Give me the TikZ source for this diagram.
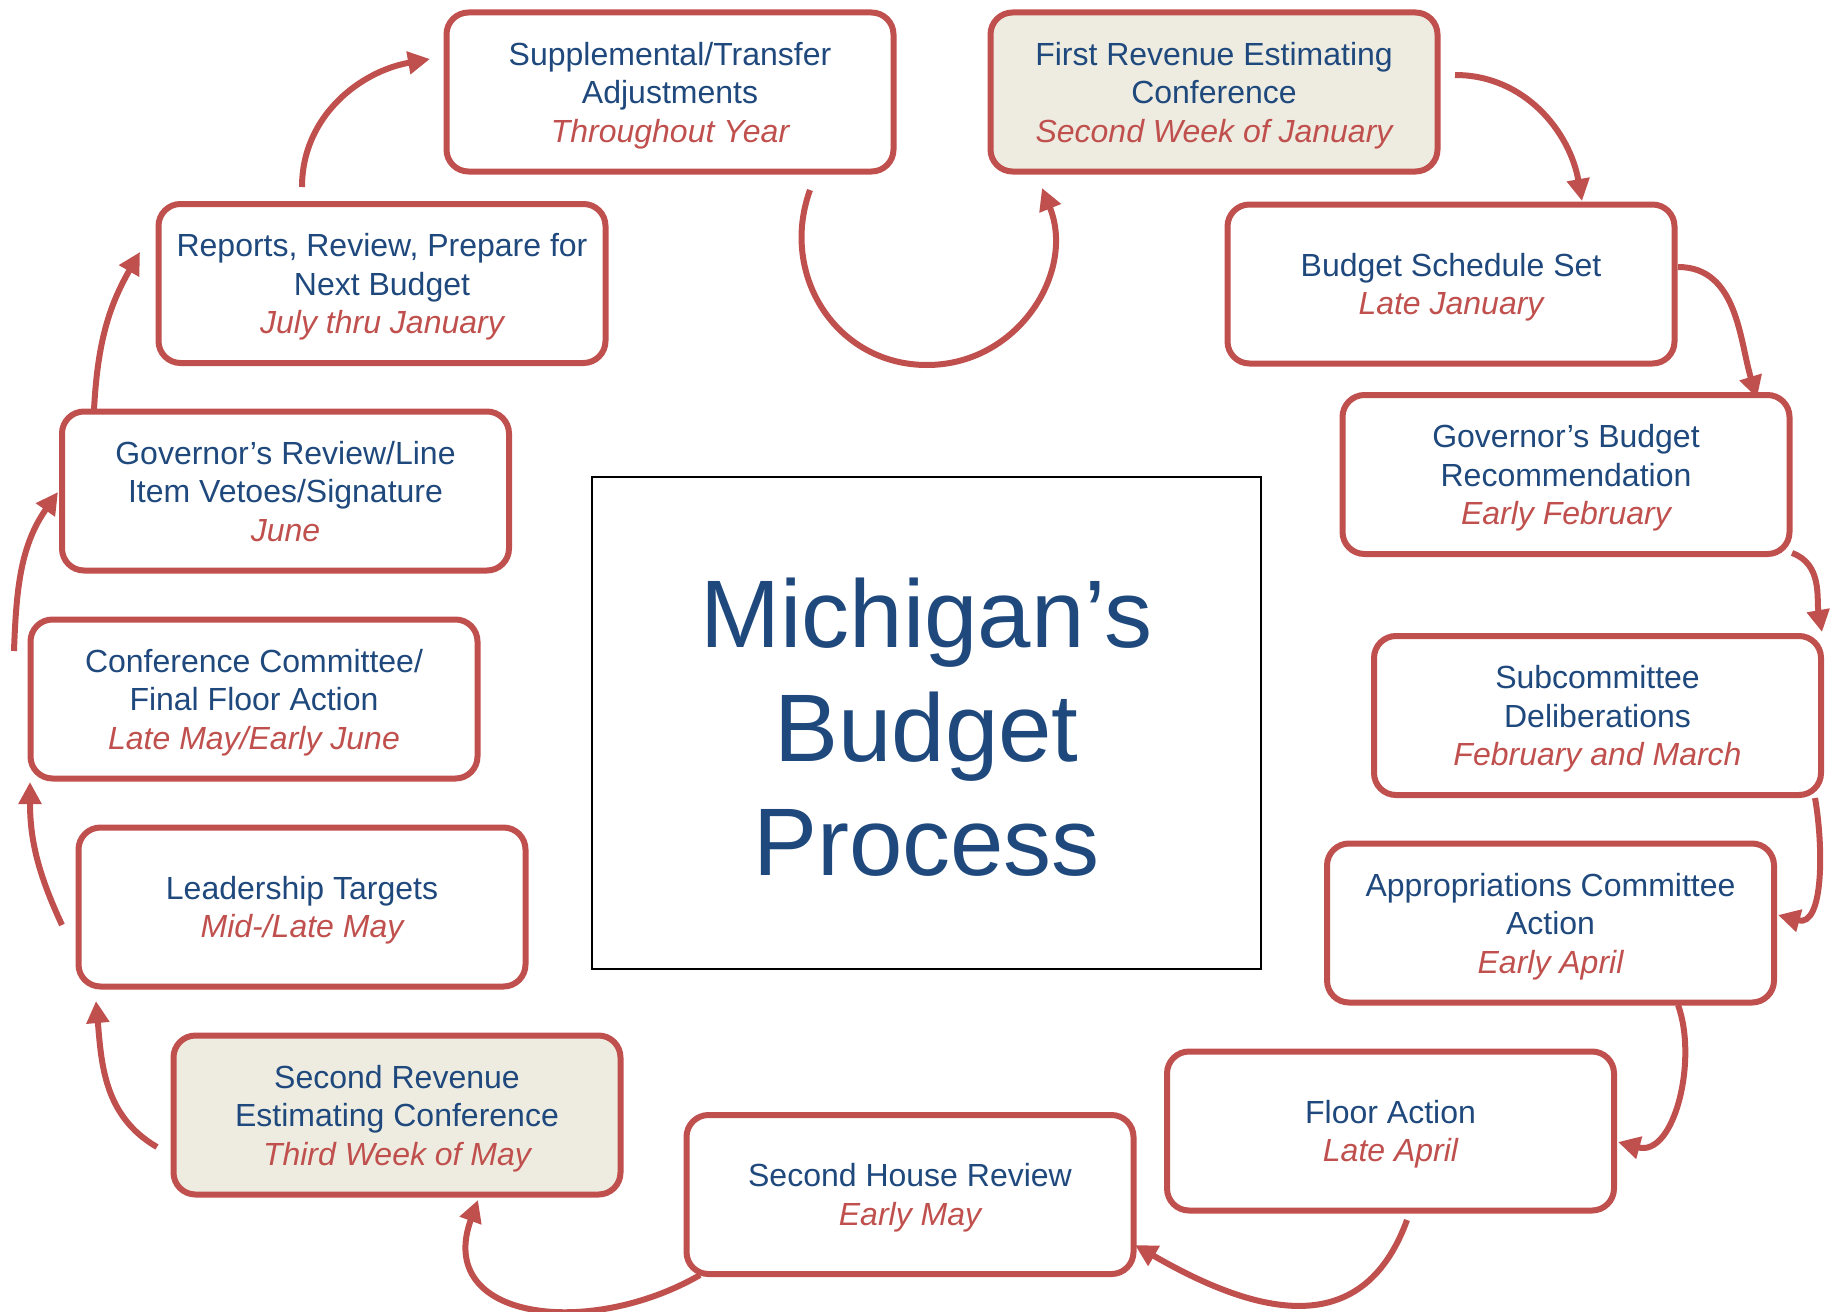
\documentclass[tikz,border=0pt]{standalone}
\usepackage{fontspec}
\setmainfont{Liberation Sans}
\usetikzlibrary{arrows.meta,calc}

\definecolor{budgetred}{HTML}{C0504D}
\definecolor{budgetblue}{HTML}{1F497D}
\definecolor{budgettan}{HTML}{EEECE1}

\newcommand{\stagedate}[1]{\smash{\color{budgetred}\itshape #1}}

\begin{document}
\begin{tikzpicture} [ x=1pt, y=-1pt,
		      every node/.style={align=center, text=budgetblue, font=\fontsize{32}{38.5}\selectfont},
		      stage/.style={draw=budgetred, line width=6pt, rounded corners=22pt, fill=white,
		                    minimum width=447pt, minimum height=159pt, inner sep=0pt},
		      revenue/.style={stage, fill=budgettan},
		      flow/.style={draw=budgetred, line width=6pt, -{Triangle[length=22pt,width=22pt]}},
%		      flow/.style={->,thick},
		    ]

  \useasboundingbox (0,0) rectangle (1835,1311);

  % centre title
  \node[draw=black, line width=2pt, minimum width=669pt, minimum height=492pt] (title) at (926.5,723) {};
  \node[font=\fontsize{96}{114}\selectfont] (titletext) at ($(title)+(0,4)$) {Michigan’s\\Budget\\Process};

  % the yearly cycle
  \node[stage]   (sup)     at (670,92)      {Supplemental/Transfer\\Adjustments\\\stagedate{Throughout Year}};
  \node[revenue] (frev)    at (1214,92)     {First Revenue Estimating\\Conference\\\stagedate{Second Week of January}};
  \node[stage]   (sched)   at (1451,284)    {Budget Schedule Set\\\stagedate{Late January}};
  \node[stage]   (govrec)  at (1566,474.5)  {Governor’s Budget\\Recommendation\\\stagedate{Early February}};
  \node[stage]   (subc)    at (1597.5,715.5){Subcommittee\\Deliberations\\\stagedate{February and March}};
  \node[stage]   (approp)  at (1550.5,923)  {Appropriations Committee\\Action\\\stagedate{Early April}};
  \node[stage]   (floor)   at (1390.5,1131) {Floor Action\\\stagedate{Late April}};
  \node[stage]   (shouse)  at (910,1194.5)  {Second House Review\\\stagedate{Early May}};
  \node[revenue] (srev)    at (397,1115)    {Second Revenue\\Estimating Conference\\\stagedate{Third Week of May}};
  \node[stage]   (lead)    at (302,907)     {Leadership Targets\\\stagedate{Mid-/Late May}};
  \node[stage]   (conf)    at (254,699)     {Conference Committee/\\Final Floor Action\\\stagedate{Late May/Early June}};
  \node[stage]   (govrev)  at (285.5,491)   {Governor’s Review/Line\\Item Vetoes/Signature\\\stagedate{June}};
  \node[stage]   (reports) at (382,283.5)   {Reports, Review, Prepare for\\Next Budget\\\stagedate{July thru January}};

  \coordinate (loop) at (927,365);

  % arrows round the cycle
  \draw[flow] ($(sup)+(140,98)$) to[out=250,in=180,looseness=1.1] (loop)
                                 to[out=0,in=292,looseness=1.1] ($(frev)+(-172,96)$);
  \draw[flow] ($(frev)+(241,-17)$)      to[out=0,in=100]   ($(sched)+(131,-83)$);
  \draw[flow] ($(sched)+(227,-17)$)     to[out=0,in=107]   ($(govrec)+(191,-76.5)$);
  \draw[flow] ($(govrec)+(226,78.5)$)   to[out=-20,in=100] ($(subc)+(224.5,-83.5)$);
  \draw[flow] ($(subc)+(217.5,82.5)$)   to[out=-80,in=-15] ($(approp)+(227.5,-8)$);
  \draw[flow] ($(approp)+(127.5,82)$)   to[out=-70,in=-15] ($(floor)+(227.5,11)$);
  \draw[flow] ($(floor)+(16.5,89)$)     to[out=-110,in=-30,looseness=1.25] ($(shouse)+(225,50.5)$);
  \draw[flow] ($(shouse)+(-210,80.5)$)  to[out=210,in=250,looseness=1.4] ($(srev)+(81,85)$);
  \draw[flow] ($(srev)+(-240,32)$)      to[out=150,in=275] ($(lead)+(-206,94)$);
  \draw[flow] ($(lead)+(-240,18)$)      to[out=115,in=270] ($(conf)+(-224,83)$);
  \draw[flow] ($(conf)+(-240,-48)$)     to[out=88,in=235]  ($(govrev)+(-227.5,1)$);
  \draw[flow] ($(govrev)+(-191.5,-81)$) to[out=87,in=240]  ($(reports)+(-242,-31.5)$);
  \draw[flow] ($(reports)+(-80,-96.5)$) to[out=90,in=190]  ($(sup)+(-240,-33)$);
\end{tikzpicture}
\end{document}
